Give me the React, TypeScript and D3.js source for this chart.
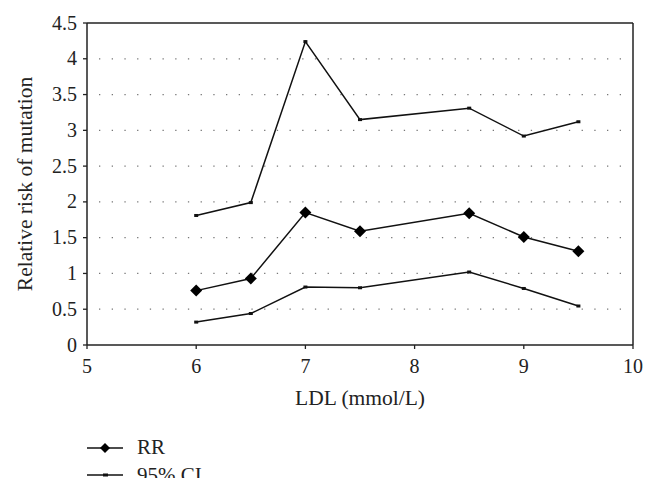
import React from "react";
import * as d3 from "d3";

const xValues = [6, 6.5, 7, 7.5, 8.5, 9, 9.5];
const rr = [0.76, 0.93, 1.85, 1.59, 1.84, 1.51, 1.31];
const upperCI = [1.81, 1.99, 4.24, 3.15, 3.31, 2.92, 3.12];
const lowerCI = [0.32, 0.44, 0.81, 0.8, 1.02, 0.79, 0.545];
const xTicks = [5, 6, 7, 8, 9, 10];
const yTicks = [0, 0.5, 1, 1.5, 2, 2.5, 3, 3.5, 4, 4.5];
const gridTicks = [0.5, 1, 1.5, 2, 2.5, 3, 3.5, 4];

const W = 657;
const H = 493;
const L = 87, R = 633, T = 23, B = 345;
const font = "'Liberation Serif', 'DejaVu Serif', serif";

export default function App() {
  const x = d3.scaleLinear().domain([5, 10]).range([L, R]);
  const y = d3.scaleLinear().domain([0, 4.5]).range([B, T]);
  const line = d3
    .line<[number, number]>()
    .x((d) => x(d[0]))
    .y((d) => y(d[1]));
  const pts = (vals: number[]) => xValues.map((v, i) => [v, vals[i]] as [number, number]);
  const diamond = (cx: number, cy: number, r: number) =>
    `M${cx},${cy - r}L${cx + r},${cy}L${cx},${cy + r}L${cx - r},${cy}Z`;

  return (
    <svg
      width={W}
      height={H}
      style={{ position: "absolute", left: 0, top: 0, background: "#fff" }}
      fontFamily={font}
    >
      <defs>
        <clipPath id="legclip">
          <rect x={0} y={0} width={W} height={478} />
        </clipPath>
      </defs>
      <rect x={0} y={0} width={W} height={H} fill="#fff" />
      {/* grid */}
      {gridTicks.map((t) => (
        <line
          key={t}
          x1={L + 12}
          x2={R - 4}
          y1={y(t)}
          y2={y(t)}
          stroke="#777"
          strokeWidth={1.3}
          strokeDasharray="1.3 11.4"
        />
      ))}
      {/* frame */}
      <line x1={L} x2={R} y1={T} y2={T} stroke="#222" strokeWidth={1.5} />
      <line x1={R} x2={R} y1={T} y2={B} stroke="#222" strokeWidth={1.5} />
      <line x1={L} x2={L} y1={T} y2={B} stroke="#222" strokeWidth={1.5} />
      <line x1={L} x2={R} y1={B} y2={B} stroke="#222" strokeWidth={1.5} />
      {/* y ticks */}
      {yTicks.map((t) => (
        <g key={t}>
          <line x1={L - 4} x2={L} y1={y(t)} y2={y(t)} stroke="#222" strokeWidth={1.3} />
          <text x={L - 10} y={y(t) + 6.5} textAnchor="end" fontSize={20} fill="#222">
            {t}
          </text>
        </g>
      ))}
      {/* x ticks */}
      {xTicks.map((t) => (
        <g key={t}>
          <line x1={x(t)} x2={x(t)} y1={B} y2={B + 4} stroke="#222" strokeWidth={1.3} />
          <text x={x(t)} y={373} textAnchor="middle" fontSize={20} fill="#222">
            {t}
          </text>
        </g>
      ))}
      <text x={(L + R) / 2} y={405} textAnchor="middle" fontSize={21.5} fill="#222">
        LDL (mmol/L)
      </text>
      <text
        transform={`translate(32,${(T + B) / 2}) rotate(-90)`}
        textAnchor="middle"
        fontSize={21.5}
        fill="#222"
      >
        Relative risk of mutation
      </text>
      {/* CI lines */}
      {[upperCI, lowerCI].map((vals, k) => (
        <g key={k}>
          <path d={line(pts(vals)) || ""} fill="none" stroke="#111" strokeWidth={1.5} />
          {pts(vals).map((p, i) => (
            <rect key={i} x={x(p[0]) - 2} y={y(p[1]) - 1.5} width={4} height={3} fill="#111" />
          ))}
        </g>
      ))}
      {/* RR */}
      <path d={line(pts(rr)) || ""} fill="none" stroke="#111" strokeWidth={1.5} />
      {pts(rr).map((p, i) => (
        <path key={i} d={diamond(x(p[0]), y(p[1]), 6)} fill="#000" />
      ))}
      {/* legend */}
      <g clipPath="url(#legclip)">
        <line x1={87} x2={123} y1={448} y2={448} stroke="#111" strokeWidth={1.5} />
        <path d={diamond(105, 448, 5)} fill="#000" />
        <text x={137} y={454} fontSize={21} fill="#222">RR</text>
        <line x1={87} x2={123} y1={475} y2={475} stroke="#111" strokeWidth={1.5} />
        <rect x={103} y={473.5} width={5} height={3} fill="#111" />
        <text x={137} y={482} fontSize={21} fill="#222">95% CI</text>
      </g>
    </svg>
  );
}
